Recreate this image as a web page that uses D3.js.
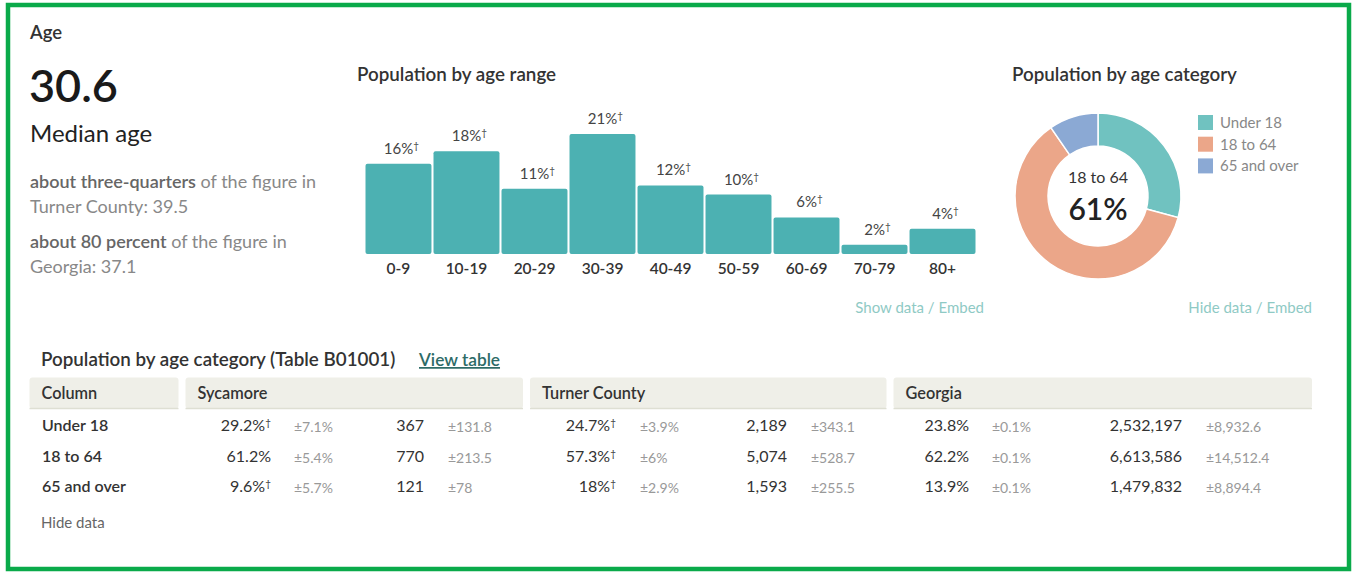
<!DOCTYPE html>
<html>
<head>
<meta charset="utf-8">
<script src="https://cdn.jsdelivr.net/npm/d3@7"></script>
<style>
  html, body { margin: 0; padding: 0; background: #fff; }
  svg { display: block; font-family: Lato, "Open Sans", sans-serif; }
  .title { font-size: 18.8px; font-weight: 600; fill: #333; }
  .muted { fill: #888; }
  .link { font-size: 15px; fill: #8fcac5; }
  .x.axis text { font-size: 15.5px; font-weight: 600; fill: #333; }
  .bar-label { font-size: 15px; fill: #444; }
  .moe { font-size: 14px; fill: #999; }
  .cell { font-size: 16px; fill: #333; }
</style>
</head>
<body>
<div id="chartAge"></div>
<script>
/* census age profile */

// bar chart: population by age range
const ageRanges = ['0-9', '10-19', '20-29', '30-39', '40-49', '50-59', '60-69', '70-79', '80+'];
const agePct = [15.8, 18.0, 11.4, 21.0, 12.0, 10.4, 6.4, 1.6, 4.4];

// age categories (donut + table)
const categories = ['Under 18', '18 to 64', '65 and over'];
const places = ['Sycamore', 'Turner County', 'Georgia'];

const sycamorePct = [29.2, 61.2, 9.6];
const sycamorePctMoe = [7.1, 5.4, 5.7];
const sycamoreCount = [367, 770, 121];
const sycamoreCountMoe = [131.8, 213.5, 78];
const sycamoreFlag = [true, false, true];

const turnerPct = [24.7, 57.3, 18];
const turnerPctMoe = [3.9, 6, 2.9];
const turnerCount = [2189, 5074, 1593];
const turnerCountMoe = [343.1, 528.7, 255.5];
const turnerFlag = [true, true, true];

const georgiaPct = [23.8, 62.2, 13.9];
const georgiaPctMoe = [0.1, 0.1, 0.1];
const georgiaCount = [2532197, 6613586, 1479832];
const georgiaCountMoe = [8932.6, 14512.4, 8894.4];
const georgiaFlag = [false, false, false];

// median age figures
const medianAge = 30.6;
const compareText = [
  { bold: 'about three-quarters', rest: ' of the figure in', place: 'Turner County', value: 39.5 },
  { bold: 'about 80 percent', rest: ' of the figure in', place: 'Georgia', value: 37.1 }
];

const barColor = '#4cb1b2';
const pieColors = ['#70c2c0', '#eba689', '#8ba9d4'];

const size = { width: 1354, height: 572 };

const svg = d3.select('#chartAge').append('svg')
  .attr('width', size.width)
  .attr('height', size.height);

// green frame
svg.append('rect')
  .attr('x', 8).attr('y', 5)
  .attr('width', 1341).attr('height', 564)
  .attr('fill', '#fff')
  .attr('stroke', '#0aaa4a')
  .attr('stroke-width', 4.5);

// ---- left column: median age ----
svg.append('text').attr('class', 'title')
  .attr('x', 30).attr('y', 39).style('font-size', '18.5px')
  .text('Age');

svg.append('text')
  .attr('x', 29).attr('y', 102)
  .style('font-size', '45px').style('font-weight', 600).style('fill', '#1a1a1a')
  .text(medianAge);

svg.append('text')
  .attr('x', 30).attr('y', 142)
  .style('font-size', '24px').style('fill', '#222')
  .text('Median age');

compareText.forEach((c, i) => {
  const y = 188 + i * 60;
  const t = svg.append('text').attr('x', 30).attr('y', y).style('font-size', '18px');
  t.append('tspan').style('font-weight', 600).style('fill', '#666').text(c.bold);
  t.append('tspan').style('fill', '#888').text(c.rest);
  svg.append('text').attr('class', 'muted')
    .attr('x', 30).attr('y', y + 25).style('font-size', '18px')
    .text(c.place + ': ' + c.value);
});

// ---- bar chart ----
svg.append('text').attr('class', 'title')
  .attr('x', 357).attr('y', 81)
  .text('Population by age range');

const xScale = d3.scaleBand()
  .domain(ageRanges)
  .range([365.5, 975.5])
  .paddingInner(0.03)
  .paddingOuter(0);

const yScale = d3.scaleLinear()
  .domain([0, d3.max(agePct)])
  .range([254, 134]);

const bars = svg.append('g').attr('class', 'bars');

bars.selectAll('rect')
  .data(agePct)
  .join('rect')
  .attr('x', (d, i) => xScale(ageRanges[i]))
  .attr('y', d => yScale(d))
  .attr('width', xScale.bandwidth())
  .attr('height', d => yScale(0) - yScale(d))
  .attr('rx', 2)
  .attr('fill', barColor);

const labels = bars.selectAll('text')
  .data(agePct)
  .join('text')
  .attr('class', 'bar-label')
  .attr('text-anchor', 'middle')
  .attr('x', (d, i) => xScale(ageRanges[i]) + xScale.bandwidth() / 2 + 3)
  .attr('y', d => yScale(d) - 10);
labels.append('tspan').text(d => Math.round(d) + '%');
labels.append('tspan').attr('dy', -5).style('font-size', '10px').text('\u2020');

const xAxis = d3.axisBottom(xScale).tickSize(0).tickPadding(9);
svg.append('g')
  .attr('class', 'x axis')
  .attr('transform', 'translate(0,' + yScale(0) + ')')
  .call(xAxis)
  .call(g => g.select('.domain').remove())
  .selectAll('text').style('font-family', 'Lato');

svg.append('text').attr('class', 'link')
  .attr('x', 984).attr('y', 313).attr('text-anchor', 'end')
  .text('Show data / Embed');

// ---- donut ----
svg.append('text').attr('class', 'title')
  .attr('x', 1012).attr('y', 81)
  .text('Population by age category');

const pie = d3.pie().sort(null);
const arc = d3.arc().innerRadius(50).outerRadius(83);
const donut = svg.append('g').attr('transform', 'translate(1098,196)');

donut.selectAll('path')
  .data(pie(sycamorePct))
  .join('path')
  .attr('d', arc)
  .attr('fill', (d, i) => pieColors[i])
  .attr('stroke', '#fff')
  .attr('stroke-width', 1.5);

donut.append('text')
  .attr('text-anchor', 'middle').attr('y', -13)
  .style('font-size', '16px').style('fill', '#333')
  .text(categories[1]);
donut.append('text')
  .attr('text-anchor', 'middle').attr('y', 24)
  .style('font-size', '30px').style('font-weight', 600).style('fill', '#222')
  .text(Math.round(sycamorePct[1]) + '%');

const legend = svg.append('g').attr('transform', 'translate(1198,115)');
const legendRow = legend.selectAll('g')
  .data(categories)
  .join('g')
  .attr('transform', (d, i) => 'translate(0,' + i * 21.7 + ')');
legendRow.append('rect')
  .attr('width', 15).attr('height', 15)
  .attr('fill', (d, i) => pieColors[i]);
legendRow.append('text')
  .attr('x', 22).attr('y', 13)
  .style('font-size', '15px').style('fill', '#888')
  .text(d => d);

svg.append('text').attr('class', 'link')
  .attr('x', 1312).attr('y', 313).attr('text-anchor', 'end')
  .text('Hide data / Embed');

// ---- data table ----
svg.append('text').attr('class', 'title')
  .attr('x', 41).attr('y', 366)
  .text('Population by age category (Table B01001)');

svg.append('text')
  .attr('x', 419).attr('y', 366)
  .style('font-size', '17.3px').style('font-weight', 600).style('fill', '#2d6b67')
  .style('text-decoration', 'underline')
  .text('View table');

const headerCells = [
  { label: 'Column', x0: 29.5, x1: 178.5 },
  { label: places[0], x0: 185.5, x1: 523 },
  { label: places[1], x0: 530, x1: 886.5 },
  { label: places[2], x0: 893.5, x1: 1312 }
];

const header = svg.append('g');
header.selectAll('rect')
  .data(headerCells)
  .join('rect')
  .attr('x', d => d.x0).attr('y', 377.5)
  .attr('width', d => d.x1 - d.x0).attr('height', 31)
  .attr('rx', 3)
  .attr('fill', '#efefe8');
header.selectAll('line')
  .data(headerCells)
  .join('line')
  .attr('x1', d => d.x0).attr('x2', d => d.x1)
  .attr('y1', 408.5).attr('y2', 408.5)
  .attr('stroke', '#dedfd3').attr('stroke-width', 1.5);
header.selectAll('text')
  .data(headerCells)
  .join('text')
  .attr('x', d => d.x0 + 12).attr('y', 399)
  .style('font-size', '16.3px').style('font-weight', 600).style('fill', '#333')
  .text(d => d.label);

const rowY = d3.scalePoint().domain(categories).range([431, 492]);

svg.append('g').selectAll('text')
  .data(categories)
  .join('text')
  .attr('x', 42).attr('y', d => rowY(d))
  .style('font-size', '16px').style('font-weight', 600).style('fill', '#333')
  .text(d => d);

const placeData = [
  { pct: sycamorePct, pctMoe: sycamorePctMoe, count: sycamoreCount, countMoe: sycamoreCountMoe, flag: sycamoreFlag,
    pos: { pctEnd: 271, pctMoe: 294, countEnd: 424, countMoe: 448 } },
  { pct: turnerPct, pctMoe: turnerPctMoe, count: turnerCount, countMoe: turnerCountMoe, flag: turnerFlag,
    pos: { pctEnd: 616, pctMoe: 640, countEnd: 787, countMoe: 811 } },
  { pct: georgiaPct, pctMoe: georgiaPctMoe, count: georgiaCount, countMoe: georgiaCountMoe, flag: georgiaFlag,
    pos: { pctEnd: 969, pctMoe: 992, countEnd: 1182, countMoe: 1206 } }
];

const fmtCount = d3.format(',');

placeData.forEach(p => {
  const g = svg.append('g');
  categories.forEach((c, i) => {
    const y = rowY(c);
    const t = g.append('text').attr('class', 'cell')
      .attr('x', p.pos.pctEnd).attr('y', y).attr('text-anchor', 'end');
    t.append('tspan').text(p.pct[i] + '%');
    if (p.flag[i]) {
      t.append('tspan').attr('dy', -5).style('font-size', '10px').text('\u2020');
    }
    g.append('text').attr('class', 'moe')
      .attr('x', p.pos.pctMoe).attr('y', y + 1)
      .text('\u00b1' + p.pctMoe[i] + '%');
    g.append('text').attr('class', 'cell')
      .attr('x', p.pos.countEnd).attr('y', y).attr('text-anchor', 'end')
      .text(fmtCount(p.count[i]));
    g.append('text').attr('class', 'moe')
      .attr('x', p.pos.countMoe).attr('y', y + 1)
      .text('\u00b1' + fmtCount(p.countMoe[i]));
  });
});

svg.append('text')
  .attr('x', 41).attr('y', 528)
  .style('font-size', '15px').style('fill', '#666')
  .text('Hide data');
</script>
</body>
</html>
